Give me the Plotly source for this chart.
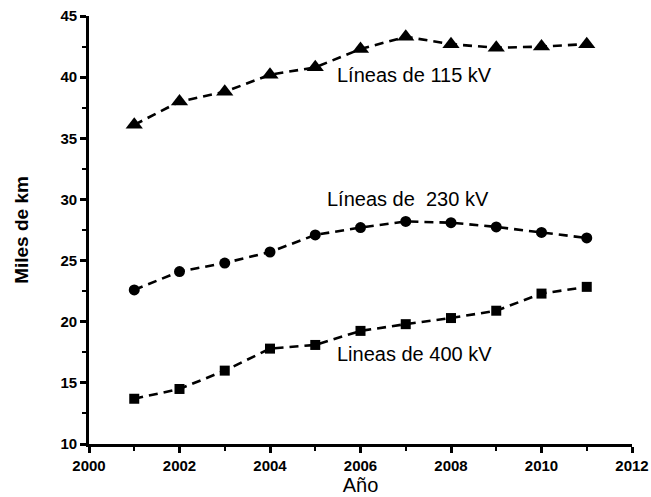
import plotly.graph_objects as go

years = [2001, 2002, 2003, 2004, 2005, 2006, 2007, 2008, 2009, 2010, 2011]
km_115 = [36.1, 38.0, 38.8, 40.2, 40.8, 42.3, 43.3, 42.7, 42.4, 42.5, 42.7]
km_230 = [22.6, 24.1, 24.8, 25.7, 27.1, 27.7, 28.2, 28.1, 27.75, 27.3, 26.85]
km_400 = [13.7, 14.5, 16.0, 17.8, 18.1, 19.25, 19.8, 20.3, 20.9, 22.3, 22.85]

labels = ["Líneas de 115 kV", "Líneas de  230 kV", "Lineas de 400 kV"]
label_pos = [(2007.2, 40.2), (2007.05, 30.0), (2007.2, 17.4)]

FONT = "Liberation Sans, Arial, sans-serif"

fig = go.Figure()
series = [(km_115, "triangle-up", 15), (km_230, "circle", 11), (km_400, "square", 10)]
for vals, sym, sz in series:
    fig.add_trace(go.Scatter(
        x=years, y=vals, mode="lines+markers",
        line=dict(color="black", width=2.6, dash="9px,6px"),
        marker=dict(symbol=sym, size=sz, color="black"),
        showlegend=False, cliponaxis=False,
    ))

for txt, (xx, yy) in zip(labels, label_pos):
    fig.add_annotation(x=xx, y=yy, text=txt, showarrow=False,
                       font=dict(family=FONT, size=20, color="black"))

axis_common = dict(
    showline=True, linecolor="black", linewidth=2.8,
    ticks="outside", ticklen=6, tickwidth=2.5, tickcolor="black",
    showgrid=False, zeroline=False, mirror=False, automargin=False,
    ticklabeloverflow="allow",
    tickfont=dict(family=FONT, size=15, color="black", weight=700),
)

fig.update_xaxes(range=[2000, 2012], dtick=2, tick0=2000,
                 minor=dict(dtick=1, ticklen=4, tickwidth=2, tickcolor="black", ticks="outside"),
                 title=dict(text="Año", font=dict(family=FONT, size=20, color="black"), standoff=0),
                 **axis_common)
fig.update_yaxes(range=[10, 45], dtick=5, tick0=10,
                 minor=dict(dtick=2.5, ticklen=4, tickwidth=2, tickcolor="black", ticks="outside"),
                 title=dict(text="Miles de km", font=dict(family=FONT, size=19, color="black", weight=700), standoff=27),
                 **axis_common)

fig.update_layout(
    width=651, height=497,
    margin=dict(l=89, r=19, t=16, b=53, autoexpand=False),
    plot_bgcolor="white", paper_bgcolor="white",
)

fig.write_html(
    "out.html",
    config={"displayModeBar": False},
    post_script="document.body.style.margin='0';document.body.style.overflow='hidden';",
)
